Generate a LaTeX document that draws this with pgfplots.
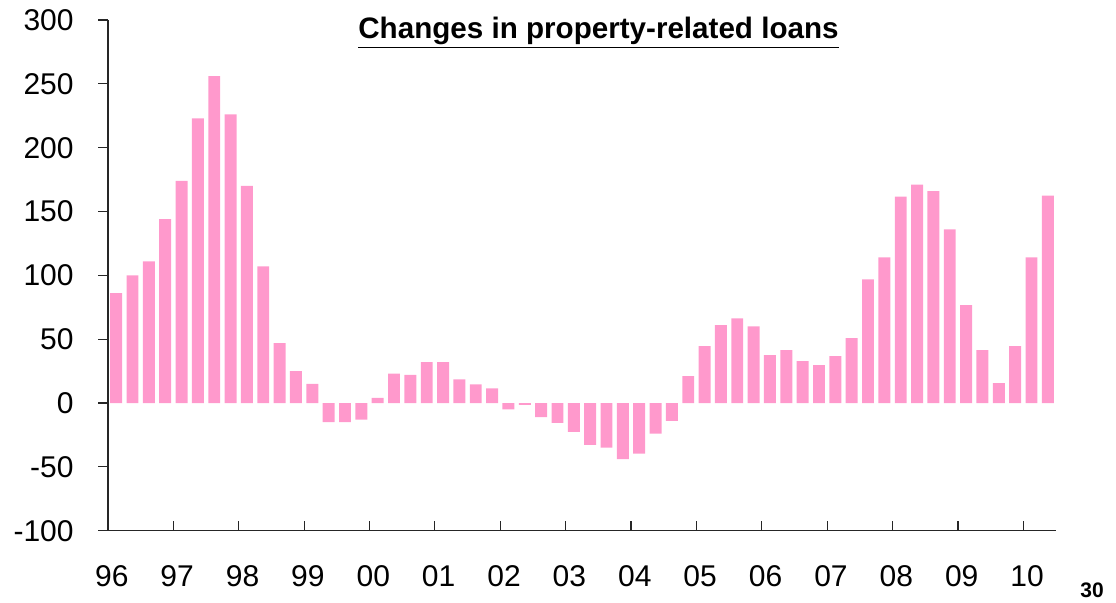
\documentclass[border=0pt]{standalone}
\usepackage{fontspec}
\setmainfont{Liberation Sans}
\usepackage{pgfplots}
\pgfplotsset{compat=1.18}
\definecolor{barpink}{HTML}{FF99CC}

\begin{document}
\begin{tikzpicture}[x=1pt,y=1pt]
\begin{axis}[
  at={(54pt,35.65pt)}, anchor=south west,
  scale only axis, width=474pt, height=255.35pt,
  xmin=-0.5, xmax=57.5, ymin=-100, ymax=300,
  axis x line*=bottom, axis y line*=left,
  axis line style={black!85, line width=0.6pt},
  ybar, bar width=0.73,
  ytick={-100,-50,...,300},
  xtick={0,4,...,56},
  xticklabels={96,97,98,99,00,01,02,03,04,05,06,07,08,09,10},
  minor xtick={3.5,7.5,...,55.5},
  major x tick style={draw=none},
  minor x tick style={black!85, line width=0.6pt},
  major y tick style={black!85, line width=0.6pt},
  xtick align=inside, ytick align=outside,
  major tick length=5pt, minor tick length=5pt,
  tick label style={font=\fontsize{15}{18}\selectfont},
  /pgf/number format/assume math mode=true,
  xticklabel style={anchor=north, inner sep=0pt, yshift=-17pt, xshift=-2.2pt},
  yticklabel style={anchor=east, inner sep=0pt, xshift=-12pt},
]
\addplot[fill=barpink, draw=none] coordinates {
(0,86) (1,100) (2,111) (3,144) (4,174) (5,223) (6,256) (7,226)
(8,170) (9,107) (10,47) (11,25) (12,15) (13,-15) (14,-15) (15,-13)
(16,4) (17,23) (18,22) (19,32) (20,32) (21,18.5) (22,14.6) (23,11.5)
(24,-5) (25,-1.5) (26,-11) (27,-15.6) (28,-22.6) (29,-32.7) (30,-35) (31,-44)
(32,-39.6) (33,-24) (34,-14) (35,21) (36,44.5) (37,61) (38,66.4) (39,60)
(40,37.5) (41,41.4) (42,32.8) (43,29.7) (44,36.7) (45,50.8) (46,96.9) (47,114)
(48,161.7) (49,171) (50,166) (51,136) (52,76.6) (53,41.4) (54,15.6) (55,44.5)
(56,114) (57,162.5)
};
\end{axis}
\node[anchor=base, font=\fontsize{14.8}{17}\selectfont\bfseries] at (299.25,282) {\underline{Changes in property-related loans}};
\node[anchor=base, font=\fontsize{10.5}{12}\selectfont\bfseries] at (546,2.5) {30};
\pgfresetboundingbox
\path[use as bounding box] (0,0) rectangle (558,301);
\end{tikzpicture}
\end{document}
